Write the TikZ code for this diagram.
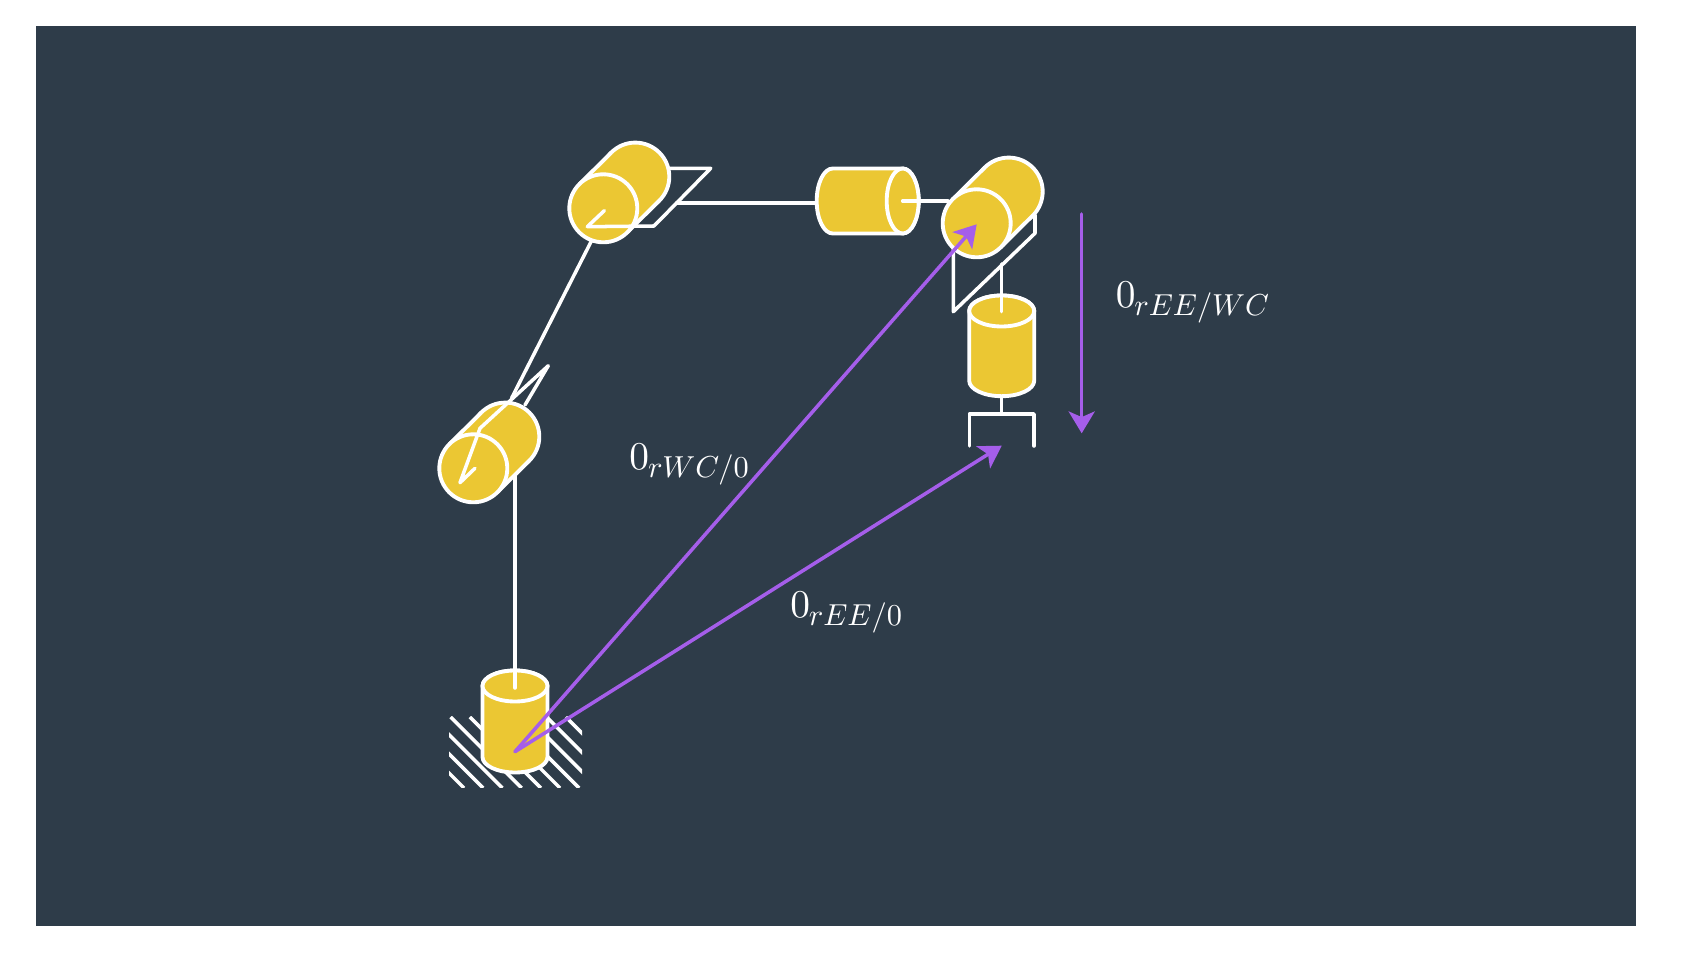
\documentclass[tikz,border=0pt]{standalone}
\usepackage{graphicx}
\usetikzlibrary{arrows.meta}
\definecolor{slate}{HTML}{2E3C49}
\definecolor{brass}{HTML}{EBC733}
\definecolor{vec}{HTML}{A55EEA}
\newcommand{\veclab}[1]{$0$\kern-0.3pt\raisebox{-2pt}{\scalebox{0.77}{$#1$}}}
\tikzset{
	link/.style={draw=white, line width=1pt, line cap=round, line join=round},
	body/.style={draw=white, fill=brass, line width=1.1pt, line join=round},
	vector/.style={draw=vec, line width=1pt, line cap=round, -{Stealth[length=6.2pt, width=7.4pt, inset=1.6pt]}},
	veclabel/.style={text=white, scale=1.12, inner sep=0pt, anchor=base west}
}

\begin{document}
\begin{tikzpicture}[x=0.01cm, y=0.01cm]
	\useasboundingbox (0,0) rectangle (1702,960);
	\fill[slate] (36,34) rectangle (1636,934);

	% Named points of the arm
	\coordinate (basetop) at (515,272);
	\coordinate (elbow) at (515,490);
	\coordinate (elbowup) at (511.7,562);
	\coordinate (shoulder) at (597,730);
	\coordinate (forkout) at (676.7,757);
	\coordinate (slideleft) at (816,757);
	\coordinate (slideright) at (902.7,759);
	\coordinate (wristin) at (948,759);
	\coordinate (neck) at (1001.7,648.3);
	\coordinate (neckup) at (1001.7,696);
	\coordinate (stemtop) at (1001.7,563.3);
	\coordinate (stembot) at (1001.7,546);
	\coordinate (origin) at (515,208.3);
	\coordinate (wc) at (976.7,735.7);
	\coordinate (ee) at (1001.7,514.3);
	\coordinate (eestart) at (1081.7,746);
	\coordinate (eestop) at (1081.7,526.7);

	% Ground hatching
	\begin{scope}
		\clip (449,172) rectangle (582,243);
		\foreach \i in {0,...,9}
			\draw[white, line width=1pt] (717-324+19.2*\i,243) -- (788-324+19.2*\i,172);
	\end{scope}

	% Upright cylinders
	\foreach \x/\ytop/\ybot in {515/274/203, 1001.7/649/579.3} {
		\draw[body] (\x-32.5,\ytop) -- (\x-32.5,\ybot) arc[start angle=180, end angle=360, x radius=32.5, y radius=15.5] -- (\x+32.5,\ytop) arc[start angle=0, end angle=180, x radius=32.5, y radius=15.5] -- cycle;
		\draw[body] (\x,\ytop) ellipse[x radius=32.5, y radius=15.5];
	}

	% Sliding cylinder
	\draw[body] (832.7,791.5) -- (902.7,791.5) arc[start angle=90, end angle=-90, x radius=16, y radius=32.5] -- (832.7,726.5) arc[start angle=270, end angle=90, x radius=16, y radius=32.5] -- cycle;
	\draw[body] (902.7,759) ellipse[x radius=16, y radius=32.5];

	% Links between the joints
	\draw[link] (basetop) -- (elbow);
	\draw[link] (elbowup) -- (shoulder);
	\draw[link] (forkout) -- (slideleft);
	\draw[link] (slideright) -- (wristin);
	\draw[link] (neck) -- (neckup);
	\draw[link] (stemtop) -- (stembot);
	\draw[link] (969.3,514) -- (969.3,546) -- (1034,546) -- (1034,514);
	\draw[link] (953.3,720) -- (953.3,648.3) -- (1035,726.7) -- (1035,745);

	% Revolute joints, front circle at (\x,\y)
	\foreach \x/\y in {473.3/491.7, 603.3/751.7, 976.7/736.7} {
		\draw[body] (\x+32,\y+31.7) circle (34);
		\fill[brass] (\x-24,\y+24) -- (\x+32-24,\y+31.7+24) -- (\x+32+24,\y+31.7-24) -- (\x+24,\y-24) -- cycle;
		\draw[link, line width=1.1pt] (\x-24,\y+24) -- (\x+32-24,\y+31.7+24);
		\draw[link, line width=1.1pt] (\x+24,\y-24) -- (\x+32+24,\y+31.7-24);
		\draw[body] (\x,\y) circle (34);
	}

	% Forks on top of the joints
	\draw[link] (475,491.7) -- (460,477.3) -- (480,531.7) -- (548.3,594.3) -- (525,555);
	\draw[link] (604.3,749.3) -- (587.3,733.3) -- (654,734) -- (710.7,791.7) -- (670,791.7);

	% Vectors
	\draw[vector] (origin) -- (wc);
	\draw[vector] (origin) -- (ee);
	\draw[vector] (eestart) -- (eestop);

	\node[veclabel] (wclabel) at (628.7,490) {\veclab{rWC/0}};
	\node[veclabel] (eelabel) at (789.5,342.5) {\veclab{rEE/0}};
	\node[veclabel] (eewclabel) at (1115,652) {\veclab{rEE/WC}};
\end{tikzpicture}
\end{document}
